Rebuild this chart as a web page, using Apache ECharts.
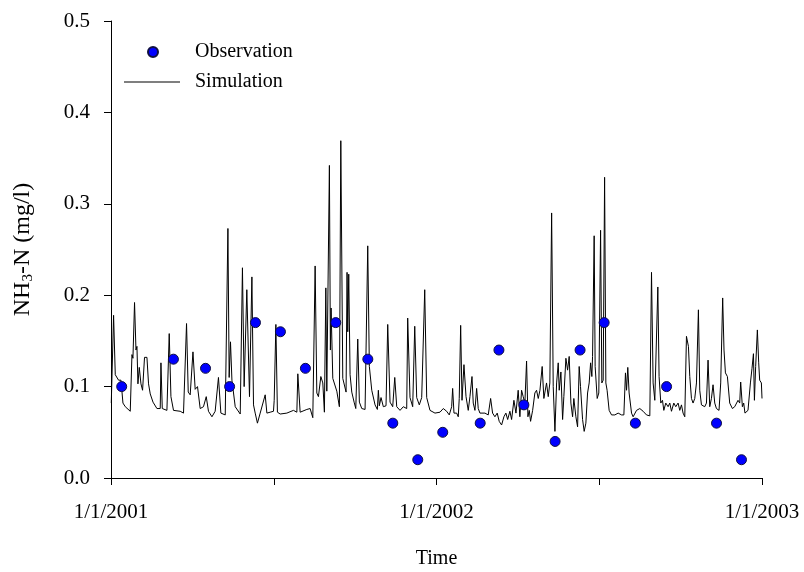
<!DOCTYPE html>
<html><head><meta charset="utf-8">
<script src="https://cdn.jsdelivr.net/npm/echarts@6/dist/echarts.min.js"></script>
<style>html,body{margin:0;padding:0;background:#fff}#c{width:804px;height:572px}</style>
</head><body><div id="c"></div>
<script>
// Days since 1/1/2001 for the simulation line
var simDay = [0.3,2.9,4.8,6.7,8.5,11.2,13.4,16.0,21.6,23.5,24.6,26.4,28.0,29.1,30.2,31.7,33.6,35.4,37.6,40.3,42.1,44.0,47.1,51.5,55.2,56.0,57.5,62.7,65.3,67.2,70.1,77.6,81.3,84.7,86.6,88.8,91.9,94.4,97.0,100.0,103.7,106.8,109.3,113.2,116.8,120.5,123.2,128.1,131.1,132.5,134.0,135.6,139.3,144.9,147.4,149.3,152.3,155.3,158.0,159.8,161.7,164.2,167.3,172.9,174.8,178.5,182.2,183.0,184.9,186.6,189.7,197.2,204.6,208.4,209.5,212.1,219.6,223.3,226.3,228.9,230.8,232.6,235.3,237.5,239.3,240.9,242.0,244.9,246.0,246.8,248.7,253.2,256.1,257.7,259.9,262.1,263.6,264.7,265.5,266.6,268.1,270.0,272.6,274.5,276.7,278.5,281.2,284.9,287.9,289.7,292.4,296.1,298.7,299.8,300.9,302.8,305.4,308.4,310.3,312.9,315.9,318.2,320.4,324.1,327.8,331.6,332.7,335.3,338.3,340.6,342.8,345.7,348.4,351.8,354.0,357.7,363.3,368.9,372.6,376.4,379.3,382.0,383.1,384.6,387.6,389.4,390.5,392.1,393.6,395.8,398.1,400.6,402.5,404.8,406.2,408.1,410.0,411.8,413.7,419.3,423.0,425.7,427.9,430.5,433.1,435.3,438.0,440.6,442.8,444.8,447.3,449.2,451.8,454.1,456.6,458.5,460.4,462.2,464.1,466.0,467.5,469.0,470.5,472.8,475.3,477.2,479.1,481.0,483.5,485.4,488.4,490.3,492.1,494.1,495.9,497.8,499.7,501.5,502.6,504.5,506.4,507.8,510.1,512.0,513.8,515.7,517.6,519.0,521.3,523.2,525.0,526.5,528.8,530.6,532.5,534.4,536.2,537.8,539.2,540.0,541.8,542.9,545.2,547.0,549.0,550.4,551.9,553.5,554.9,556.3,558.6,561.3,565.0,568.7,572.5,575.1,576.9,578.1,579.5,581.0,583.7,585.5,589.3,593.0,596.7,600.5,604.2,606.1,607.9,609.8,610.9,613.2,614.6,616.5,618.4,619.9,622.1,624.7,626.6,628.5,631.1,633.3,635.9,637.8,639.7,641.5,643.4,645.3,647.5,649.0,650.9,652.7,654.6,656.5,658.7,660.2,662.1,663.9,665.8,667.7,669.5,671.4,673.3,675.1,677.0,678.9,681.8,683.7,685.9,687.4,689.0,691.2,693.8,696.8,699.4,701.3,703.1,705.0,706.1,708.0,709.5,710.9,712.5,714.3,717.0,718.8,720.4,721.5,722.9,724.8,726.3,727.4,729.3,730.0];
var simValue = [0.082,0.178,0.113,0.111,0.107,0.107,0.082,0.078,0.073,0.135,0.131,0.192,0.140,0.144,0.103,0.121,0.103,0.096,0.132,0.132,0.103,0.092,0.083,0.076,0.076,0.126,0.076,0.074,0.158,0.089,0.074,0.073,0.071,0.169,0.094,0.091,0.138,0.097,0.100,0.076,0.078,0.089,0.073,0.067,0.073,0.110,0.071,0.069,0.273,0.110,0.149,0.107,0.078,0.070,0.230,0.100,0.206,0.089,0.220,0.080,0.071,0.060,0.071,0.091,0.071,0.072,0.073,0.085,0.168,0.072,0.070,0.071,0.074,0.072,0.114,0.072,0.075,0.076,0.066,0.232,0.093,0.089,0.111,0.104,0.072,0.208,0.095,0.342,0.140,0.186,0.109,0.095,0.078,0.369,0.109,0.107,0.094,0.225,0.160,0.223,0.113,0.094,0.083,0.076,0.152,0.083,0.076,0.075,0.254,0.122,0.096,0.080,0.075,0.096,0.079,0.088,0.078,0.079,0.168,0.083,0.078,0.110,0.078,0.074,0.078,0.076,0.175,0.088,0.078,0.166,0.088,0.080,0.088,0.206,0.088,0.074,0.071,0.072,0.076,0.073,0.069,0.078,0.098,0.071,0.071,0.067,0.087,0.167,0.085,0.124,0.089,0.074,0.089,0.111,0.082,0.074,0.098,0.076,0.071,0.071,0.069,0.087,0.071,0.067,0.071,0.062,0.058,0.067,0.071,0.064,0.073,0.064,0.085,0.071,0.096,0.067,0.096,0.089,0.082,0.128,0.067,0.074,0.062,0.074,0.093,0.096,0.087,0.096,0.122,0.087,0.104,0.089,0.104,0.290,0.100,0.051,0.104,0.126,0.096,0.116,0.064,0.089,0.131,0.118,0.133,0.082,0.067,0.087,0.067,0.056,0.122,0.100,0.064,0.051,0.060,0.093,0.104,0.126,0.111,0.133,0.265,0.122,0.087,0.093,0.271,0.104,0.107,0.329,0.104,0.096,0.074,0.069,0.069,0.071,0.069,0.069,0.115,0.096,0.121,0.093,0.071,0.067,0.074,0.076,0.073,0.069,0.068,0.225,0.104,0.085,0.083,0.209,0.111,0.082,0.085,0.074,0.082,0.078,0.082,0.073,0.082,0.078,0.082,0.074,0.080,0.071,0.067,0.155,0.144,0.111,0.087,0.082,0.087,0.104,0.184,0.096,0.080,0.082,0.078,0.082,0.129,0.078,0.087,0.102,0.082,0.076,0.074,0.104,0.197,0.140,0.115,0.111,0.082,0.076,0.078,0.080,0.085,0.082,0.105,0.078,0.082,0.071,0.069,0.074,0.104,0.120,0.136,0.085,0.122,0.162,0.126,0.107,0.104,0.087];

var obsDate = ['2001-01-13','2001-03-12','2001-04-17','2001-05-14','2001-06-12','2001-07-10','2001-08-07','2001-09-10','2001-10-16','2001-11-13','2001-12-11','2002-01-08','2002-02-19','2002-03-12','2002-04-09','2002-05-14','2002-06-11','2002-07-08','2002-08-12','2002-09-16','2002-11-11','2002-12-09'];
var obsValue = [0.10,0.13,0.12,0.10,0.17,0.16,0.12,0.17,0.13,0.06,0.02,0.05,0.06,0.14,0.08,0.04,0.14,0.17,0.06,0.10,0.06,0.02];

var xTickLabels = {0:'1/1/2001', 365:'1/1/2002', 730:'1/1/2003'};

function dayOf(s){
  var p = s.split('-');
  return (Date.UTC(+p[0], +p[1]-1, +p[2]) - Date.UTC(2001,0,1)) / 86400000;
}
var simData = simDay.map(function(d,i){return [d, simValue[i]];});
var obsData = obsDate.map(function(d,i){return [dayOf(d), obsValue[i]];});

var FONT = 'Liberation Serif';
var chart = echarts.init(document.getElementById('c'), null, {renderer:'canvas'});
chart.setOption({
  animation: false,
  backgroundColor: '#fff',
  grid: {left:111, right:42, top:21, bottom:94, containLabel:false, outerBoundsMode:'none'},
  legend: [
    {data:[{name:'Observation', icon:'circle'}], left:142, top:37, orient:'vertical', itemWidth:56, itemHeight:10,
     textStyle:{fontFamily:FONT, fontSize:20, color:'#000', padding:[0,0,0,9]}},
    {data:[{name:'Simulation', icon:'rect'}], left:119, top:67, orient:'vertical', itemWidth:56, itemHeight:1,
     textStyle:{fontFamily:FONT, fontSize:20, color:'#000', padding:[0,0,0,10]}}
  ],
  xAxis: {
    type:'value', min:0, max:730, interval:182.5,
    name:'Time', nameLocation:'middle', nameGap:71,
    nameTextStyle:{fontFamily:FONT, fontSize:20, color:'#000'},
    axisLine:{show:true, lineStyle:{color:'#000', width:1}},
    axisTick:{show:true, inside:false, length:7, lineStyle:{color:'#000'}},
    axisLabel:{fontFamily:FONT, fontSize:21, color:'#000', margin:24,
      formatter:function(v){ return xTickLabels[Math.round(v)] || ''; }},
    splitLine:{show:false}
  },
  yAxis: {
    type:'value', min:0, max:0.5, interval:0.1,
    name:'{a|NH}{s|3}{a|-N (mg/l)}', nameLocation:'middle', nameGap:75, nameRotate:90,
    nameTextStyle:{fontFamily:FONT, fontSize:24, color:'#000',
      rich:{a:{fontFamily:FONT, fontSize:24, color:'#000'},
            s:{fontFamily:FONT, fontSize:15, color:'#000', padding:[12,0,0,0]}}},
    axisLine:{show:true, lineStyle:{color:'#000', width:1}},
    axisTick:{show:true, inside:false, length:7, lineStyle:{color:'#000'}},
    axisLabel:{fontFamily:FONT, fontSize:21, color:'#000', margin:21,
      formatter:function(v){ return v.toFixed(1); }},
    splitLine:{show:false}
  },
  series: [
    {name:'Simulation', type:'line', data:simData, symbol:'none', showSymbol:false,
     lineStyle:{color:'#000', width:1}, itemStyle:{color:'#000'}, z:2},
    {name:'Observation', type:'scatter', data:obsData, symbol:'circle', symbolSize:10,
     itemStyle:{color:'#0000ff', borderColor:'#101040', borderWidth:1, opacity:1}, z:3}
  ]
});
</script></body></html>
